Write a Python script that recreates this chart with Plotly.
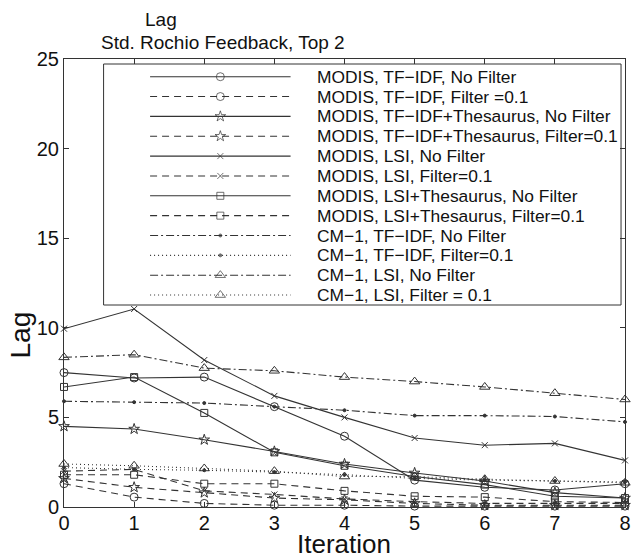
import plotly.graph_objects as go

# ---- data -----------------------------------------------------------------
iterations = [0, 1, 2, 3, 4, 5, 6, 7, 8]

modis_tfidf_nofilt = [7.5, 7.2, 7.25, 5.6, 3.95, 1.5, 1.1, 0.95, 1.3]
modis_tfidf_filt = [1.3, 0.55, 0.2, 0.1, 0.1, 0.05, 0.05, 0.05, 0.05]
modis_thes_nofilt = [4.5, 4.35, 3.75, 3.1, 2.4, 1.9, 1.45, 0.8, 0.5]
modis_thes_filt = [1.6, 1.1, 0.8, 0.5, 0.4, 0.2, 0.1, 0.1, 0.1]
modis_lsi_nofilt = [9.95, 11.05, 8.2, 6.2, 5.0, 3.85, 3.45, 3.55, 2.6]
modis_lsi_filt = [2.0, 2.1, 0.9, 0.7, 0.45, 0.3, 0.2, 0.2, 0.2]
modis_lsithes_nofilt = [6.7, 7.25, 5.25, 3.05, 2.3, 1.7, 1.25, 0.6, 0.5]
modis_lsithes_filt = [1.8, 1.8, 1.3, 1.3, 0.9, 0.6, 0.55, 0.3, 0.25]
cm1_tfidf_nofilt = [5.9, 5.85, 5.8, 5.6, 5.4, 5.1, 5.1, 5.05, 4.75]
cm1_tfidf_filt = [2.2, 2.1, 2.05, 1.95, 1.8, 1.6, 1.5, 1.45, 1.4]
cm1_lsi_nofilt = [8.35, 8.5, 7.75, 7.6, 7.25, 7.0, 6.7, 6.35, 6.0]
cm1_lsi_filt = [2.4, 2.3, 2.15, 2.0, 1.7, 1.7, 1.55, 1.45, 1.35]

series_names = [
    "MODIS, TF\u2212IDF, No Filter",
    "MODIS, TF\u2212IDF, Filter =0.1",
    "MODIS, TF\u2212IDF+Thesaurus, No Filter",
    "MODIS, TF\u2212IDF+Thesaurus, Filter=0.1",
    "MODIS, LSI, No Filter",
    "MODIS, LSI, Filter=0.1",
    "MODIS, LSI+Thesaurus, No Filter",
    "MODIS, LSI+Thesaurus, Filter=0.1",
    "CM\u22121, TF\u2212IDF, No Filter",
    "CM\u22121, TF\u2212IDF, Filter=0.1",
    "CM\u22121, LSI, No Filter",
    "CM\u22121, LSI, Filter = 0.1",
]
series_values = [
    modis_tfidf_nofilt, modis_tfidf_filt,
    modis_thes_nofilt, modis_thes_filt,
    modis_lsi_nofilt, modis_lsi_filt,
    modis_lsithes_nofilt, modis_lsithes_filt,
    cm1_tfidf_nofilt, cm1_tfidf_filt,
    cm1_lsi_nofilt, cm1_lsi_filt,
]

# ---- styles ---------------------------------------------------------------
SOLID = "solid"
DASHED = "7px,5px"
DASHDOT = "8px,3px,2px,3px"
DOTTED = "1px,3px"

styles = [
    (SOLID, "circle-open", 8),
    (DASHED, "circle-open", 8),
    (SOLID, "star-open", 8),
    (DASHED, "star-open", 8),
    (SOLID, "x-thin-open", 6),
    (DASHED, "x-thin-open", 6),
    (SOLID, "square-open", 7),
    (DASHED, "square-open", 7),
    (DASHDOT, "circle", 3),
    (DOTTED, "circle", 3),
    (DASHDOT, "triangle-up-open", 9),
    (DOTTED, "triangle-up-open", 9),
]

INK = "#333333"
FONT = "Liberation Sans, Arial, sans-serif"

# figure geometry (pixels)
W, H = 636, 559
M_L, M_R, M_T, M_B = 64, 5, 59, 52
PW, PH = W - M_L - M_R, H - M_T - M_B


def px_to_paper(px, py):
    """Convert a pixel position in the page to paper coordinates."""
    return (px - M_L) / PW, (H - M_B - py) / PH


fig = go.Figure()

for name, vals, (dash, sym, size) in zip(series_names, series_values, styles):
    fig.add_trace(go.Scatter(
        x=iterations, y=vals, name=name, mode="lines+markers",
        line=dict(color=INK, width=1.1, dash=dash),
        marker=dict(symbol=sym, size=size, color=INK,
                    line=dict(color=INK, width=1)),
        cliponaxis=False, showlegend=False,
    ))

# ---- legend box drawn on an overlay axis in pixel units -------------------
LEG_X0, LEG_X1, LEG_Y0, LEG_Y1 = 104, 627, 64, 305
ROW0, ROW_STEP = 76.7, 19.85
SAMPLE_X0, SAMPLE_X1, TEXT_X = 151, 293, 318

fig.add_shape(type="rect", xref="x2", yref="y2",
              x0=LEG_X0, x1=LEG_X1, y0=LEG_Y0, y1=LEG_Y1,
              line=dict(color=INK, width=1), fillcolor="white", layer="below")

for i, (name, (dash, sym, size)) in enumerate(zip(series_names, styles)):
    yy = ROW0 + i * ROW_STEP
    xm = (SAMPLE_X0 + SAMPLE_X1) / 2
    fig.add_trace(go.Scatter(
        x=[SAMPLE_X0, xm, SAMPLE_X1], y=[yy, yy, yy], mode="lines+markers",
        line=dict(color=INK, width=1.1, dash=dash),
        marker=dict(symbol=sym, size=[0, size, 0], color=INK,
                    line=dict(color=INK, width=1)),
        xaxis="x2", yaxis="y2", showlegend=False, hoverinfo="skip",
    ))
    fig.add_annotation(x=TEXT_X, y=yy, xref="x2", yref="y2", text=name,
                       showarrow=False, xanchor="left", yanchor="middle",
                       font=dict(size=17.4, color="#111", family=FONT))


# ---- titles ---------------------------------------------------------------
def add_text(px, py, text, size, angle=0):
    x, y = px_to_paper(px, py)
    fig.add_annotation(x=x, y=y, xref="paper", yref="paper", text=text,
                       showarrow=False, textangle=angle,
                       xanchor="center", yanchor="middle",
                       font=dict(size=size, color="#111", family=FONT))


add_text(162, 19, "Lag", 19)
add_text(225, 43, "Std. Rochio Feedback, Top 2", 19)
add_text(20, 335, "Lag", 28, angle=-90)
add_text(347, 544, "Iteration", 26)

axis_common = dict(showgrid=False, zeroline=False, showline=True,
                   linecolor=INK, linewidth=1, mirror="ticks",
                   ticks="inside", ticklen=5, tickcolor=INK,
                   ticklabeloverflow="allow",
                   tickfont=dict(size=20, color="#111", family=FONT))

fig.update_layout(
    width=W, height=H,
    margin=dict(l=M_L, r=M_R, t=M_T, b=M_B),
    paper_bgcolor="white", plot_bgcolor="white",
    xaxis=dict(range=[0, 8], tickmode="linear", tick0=0, dtick=1,
               ticklabelstandoff=-2, **axis_common),
    yaxis=dict(range=[0, 25], tickmode="linear", tick0=0, dtick=5, **axis_common),
    xaxis2=dict(overlaying="x", range=[M_L, W - M_R], visible=False),
    yaxis2=dict(overlaying="y", range=[H - M_B, M_T], visible=False),
)

fig.write_html("out.html")
